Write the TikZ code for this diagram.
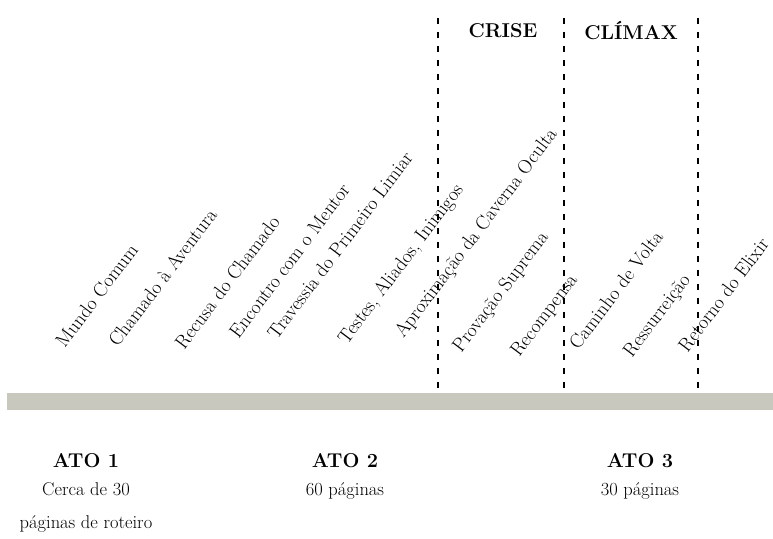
\documentclass[tikz,border=0pt]{standalone}
\usepackage{tikz}
\usepackage{xcolor}
\usetikzlibrary{positioning}
\definecolor{bargray}{RGB}{200,200,190}
\tikzset{
    beat/.style={anchor=base east, rotate=53, inner sep=0pt, font=\fontsize{19.5}{23}\selectfont}, % the rotated stage names
    phase/.style={font=\fontsize{20}{24}\selectfont\bfseries}, % CRISE and CLIMAX
    act/.style={font=\fontsize{20}{24}\selectfont\bfseries, inner sep=0pt}, % act titles
    pages/.style={font=\fontsize{18.5}{22}\selectfont, inner sep=0pt}, % page counts
    divider/.style={line width=1.8pt, dash pattern=on 6pt off 8pt}, % the dashed markers
}

\begin{document}
\begin{tikzpicture}[x=1pt, y=-1pt]
    \useasboundingbox (0,0) rectangle (773,538);

    % timeline bar
    \fill[bargray] (7,393) rectangle (773,410);

    % dashed markers
    \coordinate (m1top) at (438,18);
    \coordinate (m1bot) at (438,393);
    \coordinate (m2top) at (564,18);
    \coordinate (m2bot) at (564,393);
    \coordinate (m3top) at (698,18);
    \coordinate (m3bot) at (698,393);
    \draw[divider] (m1top) -- (m1bot);
    \draw[divider] (m2top) -- (m2bot);
    \draw[divider] (m3top) -- (m3bot);

    \node[phase] (crise) at (503,31) {CRISE};
    \node[phase] (climax) at (631,31) {CLÍMAX};

    % stages, placed by where they end
    \node[beat] (s1) at (139,250) {Mundo Comum};
    \node[beat] (s2) at (218,215) {Chamado à Aventura};
    \node[beat] (s3) at (281,222) {Recusa do Chamado};
    \node[beat] (s4) at (351,190) {Encontro com o Mentor};
    \node[beat] (s5) at (414,158) {Travessia do Primeiro Limiar};
    \node[beat] (s6) at (464,190) {Testes, Aliados, Inimigos};
    \node[beat] (s7) at (558,134) {Aproximação da Caverna Oculta};
    \node[beat] (s8) at (549,237) {Provação Suprema};
    \node[beat] (s9) at (578,280) {Recompensa};
    \node[beat] (s10) at (664,237) {Caminho de Volta};
    \node[beat] (s11) at (691,280) {Ressurreição};
    \node[beat] (s12) at (770,244) {Retorno do Elixir};

    % acts
    \node[act] (ato1) at (86,461) {ATO 1};
    \node[pages] (p1) [below=14pt of ato1] {Cerca de 30};
    \node[pages] (p1b) [below=19pt of p1] {páginas de roteiro};
    \node[act] (ato2) at (345,461) {ATO 2};
    \node[pages] (p2) [below=14pt of ato2] {60 páginas};
    \node[act] (ato3) at (640,461) {ATO 3};
    \node[pages] (p3) [below=14pt of ato3] {30 páginas};
\end{tikzpicture}
\end{document}
